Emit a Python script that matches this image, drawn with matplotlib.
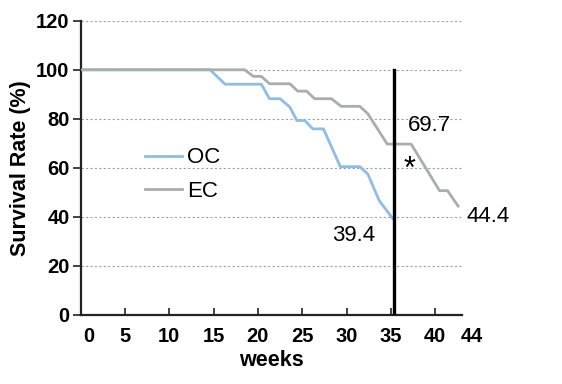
import matplotlib
matplotlib.use("Agg")
import matplotlib.pyplot as plt

plt.rcParams['font.family'] = ['Liberation Sans', 'DejaVu Sans']

oc_weeks = [0, 14.6, 16.3, 20.4, 21.3, 22.5, 23.6, 24.4, 25.3, 26.2, 27.4, 28.5, 29.3, 31.5, 32.4, 33.7, 35.2]
oc_rate = [100, 100, 94.1, 94.1, 88.2, 88.2, 84.8, 79.3, 79.3, 75.9, 75.9, 67.0, 60.5, 60.5, 57.5, 46.6, 39.4]
ec_weeks = [0, 18.5, 19.5, 20.4, 21.3, 23.6, 24.5, 25.5, 26.4, 28.3, 29.4, 31.5, 32.4, 34.6, 37.3, 40.5, 41.4, 42.6]
ec_rate = [100, 100, 97.3, 97.3, 94.3, 94.3, 91.3, 91.3, 88.2, 88.2, 85.1, 85.1, 82.1, 69.7, 69.7, 50.7, 50.7, 44.4]
x_ticks = [5, 10, 15, 20, 25, 30, 35, 40]
y_ticks = [0, 20, 40, 60, 80, 100, 120]
cut_week = 35.4
labels = {"oc_end": "39.4", "ec_cut": "69.7", "ec_end": "44.4"}

fig = plt.figure(figsize=(5.62, 3.84), dpi=100)
ax = fig.add_axes([0.1436, 0.1797, 0.8215 - 0.1436, 0.946 - 0.1797])

oc_color = '#8fbce9'
ec_color = '#a9adab'

for y in y_ticks[1:]:
    ax.axhline(y, color='#a0a0a0', lw=0.8, ls=(0, (2, 2)), zorder=0)

ax.plot(oc_weeks, oc_rate, color=oc_color, lw=2.0, label='OC', zorder=2)
ax.plot(ec_weeks, ec_rate, color=ec_color, lw=2.0, label='EC', zorder=3)
ax.plot([cut_week, cut_week], [0, 100], color='black', lw=2.4, zorder=4)

ax.set_xlim(0, 43)
ax.set_ylim(0, 120)
ax.spines['top'].set_visible(False)
ax.spines['right'].set_visible(False)
for s in ['left', 'bottom']:
    ax.spines[s].set_linewidth(1.6)
    ax.spines[s].set_color('#222222')

ax.set_yticks(y_ticks)
ax.set_yticklabels([str(v) for v in y_ticks], fontsize=14.5, fontweight='bold')
ax.tick_params(axis='y', direction='out', length=6, width=1.2, pad=2, color='#222222')
ax.set_xticks(x_ticks)
ax.set_xticklabels([str(v) for v in x_ticks], fontsize=14.5, fontweight='bold')
ax.tick_params(axis='x', direction='in', length=5, width=1.2, pad=8.5, color='#222222')

# extra x labels outside tick set
trans = ax.get_xaxis_transform()
off = -12.0 / 294.0
ax.text(0.9, off, "0", transform=trans, ha='center', va='top', fontsize=14.5, fontweight='bold')
ax.text(44.2, off, "44", transform=trans, ha='center', va='top', fontsize=14.5, fontweight='bold', clip_on=False)

ax.set_ylabel('Survival Rate (%)', fontsize=15.5, fontweight='bold', labelpad=4)
ax.set_xlabel('weeks', fontsize=15.5, fontweight='bold', labelpad=3)

ax.text(39.4, 77.3, labels["ec_cut"], ha='center', va='center', fontsize=16)
ax.text(37.1, 59.0, '*', ha='center', va='center', fontsize=22)
ax.text(30.8, 32.3, labels["oc_end"], ha='center', va='center', fontsize=16)
ax.text(43.6, 40.3, labels["ec_end"], ha='left', va='center', fontsize=16, clip_on=False)

leg = ax.legend(loc='upper left', bbox_to_anchor=(0.1445, 0.60), frameon=False, fontsize=16,
                handlelength=1.7, handletextpad=0.2, labelspacing=0.55, borderaxespad=0)

fig.savefig('out.png', dpi=100)
